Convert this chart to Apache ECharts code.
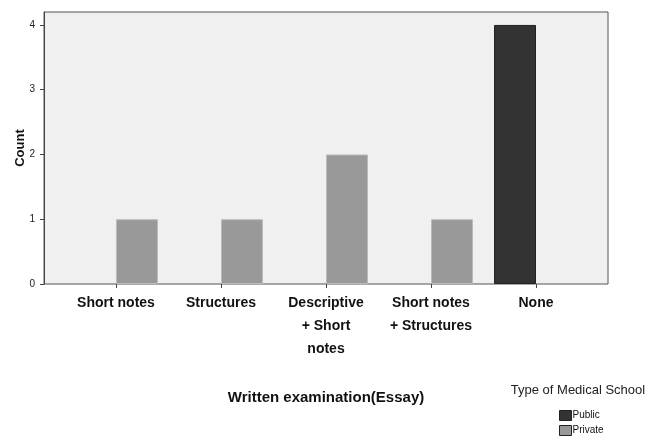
<!DOCTYPE html>
<html><head><meta charset="utf-8">
<script src="https://cdn.jsdelivr.net/npm/echarts@6/dist/echarts.min.js"></script>
<style>html,body{margin:0;padding:0;background:#fff}#c{width:660px;height:437px}</style>
</head><body><div id="c"></div>
<script>
const categories = ['Short notes', 'Structures', 'Descriptive\n+ Short\nnotes', 'Short notes\n+ Structures', 'None'];
const publicCounts = [0, 0, 0, 0, 4];
const privateCounts = [1, 1, 2, 1, 0];
const yTicks = [0, 1, 2, 3, 4];
const seriesNames = ['Public', 'Private'];

const font = 'Liberation Sans, Arial, sans-serif';
const noZero = arr => arr.map(v => (v === 0 ? null : v));
const legendCommon = {
  orient: 'horizontal', left: 554, itemWidth: 12, itemHeight: 10, icon: 'rect', itemGap: 0,
  textStyle: {fontSize: 10, color: '#111', padding: [0, 0, 0, -4]},
  itemStyle: {borderColor: '#222', borderWidth: 1}
};
const chart = echarts.init(document.getElementById('c'), null, {renderer: 'canvas'});
chart.setOption({
  animation: false,
  textStyle: {fontFamily: font},
  grid: [
    {left: 44, right: 52, top: 12, bottom: 153, show: true, backgroundColor: '#f0f0f0', borderColor: '#555', borderWidth: 1},
    {left: 63.5, right: 71.5, top: 12, bottom: 153}
  ],
  xAxis: [
    {gridIndex: 0, type: 'value', min: 0, max: 1, show: false},
    {gridIndex: 1, type: 'category', data: categories, boundaryGap: true,
     axisLine: {show: false},
     axisTick: {show: true, alignWithLabel: true, length: 4, lineStyle: {color: '#444'}},
     axisLabel: {color: '#111', fontWeight: 'bold', fontSize: 14, lineHeight: 23, margin: 8, interval: 0, fontFamily: font}}
  ],
  yAxis: [
    {gridIndex: 0, type: 'value', min: 0, max: 4.2, interval: 1,
     axisLine: {show: true, lineStyle: {color: '#444'}},
     axisTick: {show: true, length: 4, lineStyle: {color: '#444'}, customValues: yTicks},
     axisLabel: {fontSize: 10, color: '#222', margin: 9, customValues: yTicks},
     splitLine: {show: false}},
    {gridIndex: 1, type: 'value', min: 0, max: 4.2, show: false}
  ],
  legend: [
    Object.assign({data: [seriesNames[0]], top: 405}, legendCommon),
    Object.assign({data: [seriesNames[1]], top: 420}, legendCommon)
  ],
  graphic: [
    {type: 'text', x: 20, y: 148, rotation: Math.PI / 2, style: {text: 'Count', font: 'bold 13px Liberation Sans, Arial', fill: '#111', align: 'center', verticalAlign: 'middle'}},
    {type: 'text', x: 326, y: 398, style: {text: 'Written examination(Essay)', font: 'bold 15px Liberation Sans, Arial', fill: '#111', align: 'center', verticalAlign: 'middle'}},
    {type: 'text', x: 578, y: 390, style: {text: 'Type of Medical School', font: '13px Liberation Sans, Arial', fill: '#222', align: 'center', verticalAlign: 'middle'}}
  ],
  series: [
    {name: seriesNames[0], type: 'bar', xAxisIndex: 1, yAxisIndex: 1, data: noZero(publicCounts), barWidth: 42, barGap: '0%',
     itemStyle: {color: '#333333', borderColor: '#222', borderWidth: 1}},
    {name: seriesNames[1], type: 'bar', xAxisIndex: 1, yAxisIndex: 1, data: noZero(privateCounts), barWidth: 42, barGap: '0%',
     itemStyle: {color: '#999999', borderColor: '#bbb', borderWidth: 1}}
  ]
});
</script></body></html>
